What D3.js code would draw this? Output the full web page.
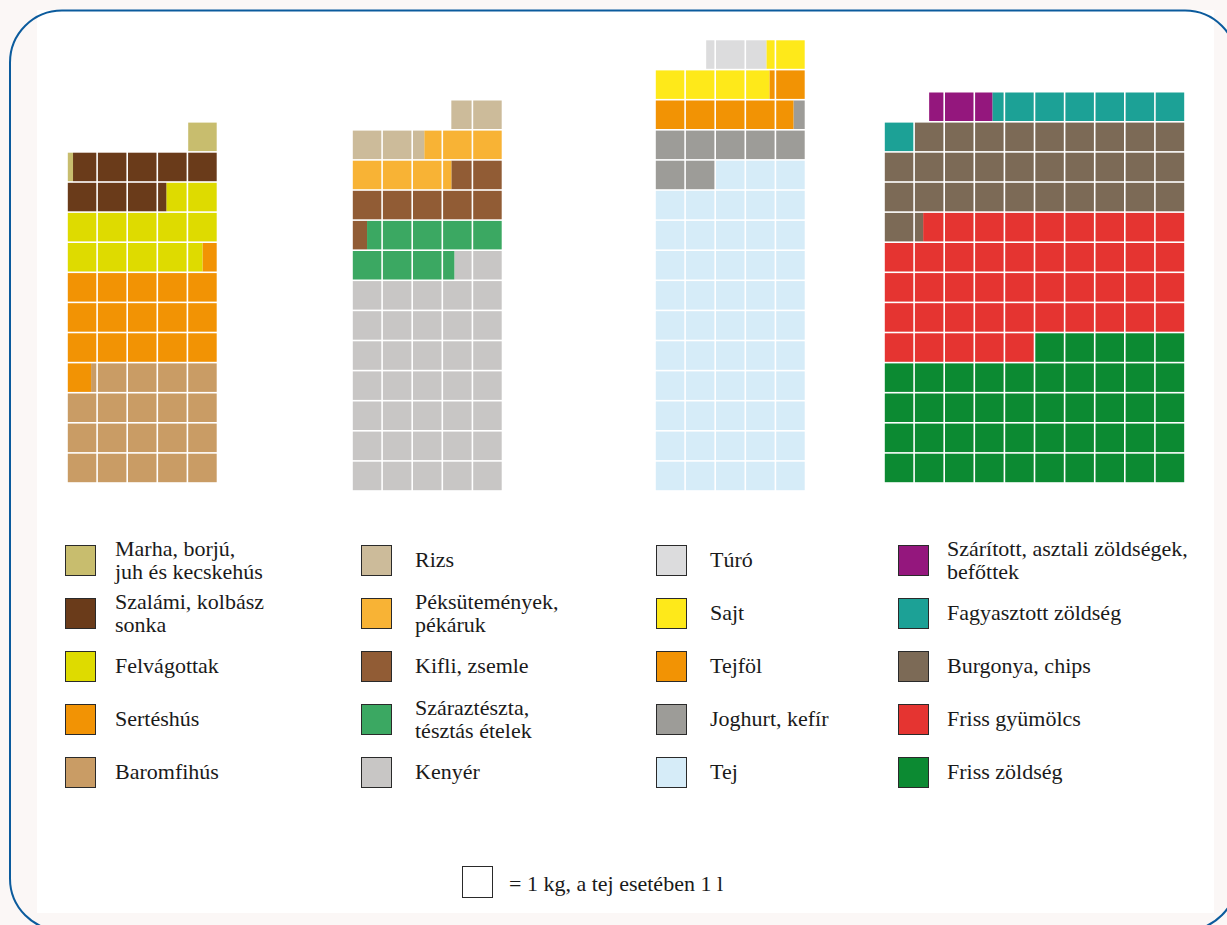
<!DOCTYPE html>
<meta charset="utf-8">
<title>Élelmiszer-fogyasztás</title>
<style>
body {
  margin: 0;
  background: #fbf7f6;
}
svg {
  display: block;
}
.swatch {
  stroke: #2a2a2a;
  stroke-width: 1px;
}
</style>
<svg id="chart" width="1227" height="925"></svg>
<script src="https://cdn.jsdelivr.net/npm/d3@7"></script>
<script>
// legend order, top to bottom; the blocks stack the other way, from the bottom row up
const meatLabels = [["Marha, borjú,", "juh és kecskehús"], ["Szalámi, kolbász", "sonka"], ["Felvágottak"], ["Sertéshús"], ["Baromfihús"]];
const meatValues = [1.2, 8.1, 11.2, 16.3, 19.2];
const meatColors = ["#c8bd6e", "#6a3b1a", "#dedb00", "#f29304", "#c99c65"];

const breadLabels = [["Rizs"], ["Péksütemények,", "pékáruk"], ["Kifli, zsemle"], ["Száraztészta,", "tésztás ételek"], ["Kenyér"]];
const breadValues = [4.1, 5.9, 7.2, 7.9, 36.6];
const breadColors = ["#ccbb9a", "#f8b335", "#915c35", "#3ba862", "#c8c6c5"];

const dairyLabels = [["Túró"], ["Sajt"], ["Tejföl"], ["Joghurt, kefír"], ["Tej"]];
const dairyValues = [2.0, 5.1, 5.8, 7.4, 53];
const dairyColors = ["#dcdcdd", "#fee91a", "#f29304", "#9d9c98", "#d6ecf8"];

const vegLabels = [["Szárított, asztali zöldségek,", "befőttek"], ["Fagyasztott zöldség"], ["Burgonya, chips"], ["Friss gyümölcs"], ["Friss zöldség"]];
const vegValues = [2.1, 7.4, 30.3, 43.7, 45];
const vegColors = ["#94177d", "#1ca196", "#7c6a56", "#e53431", "#0c8a32"];

const noteText = "= 1 kg, a tej esetében 1 l";

const groups = [
  {labels: meatLabels, values: meatValues, colors: meatColors},
  {labels: breadLabels, values: breadValues, colors: breadColors},
  {labels: dairyLabels, values: dairyValues, colors: dairyColors},
  {labels: vegLabels, values: vegValues, colors: vegColors}
];

// layout of the four blocks
const blockLeft = [67, 352, 655, 884],
      blockBottom = [483, 491, 491, 483],
      blockCols = [5, 5, 5, 10],
      pitch = 30.1,
      gap = 1.6;

const swatchX = [65, 361, 656, 898],
      textX = [115, 415, 710, 947],
      legendY = d3.scaleLinear().domain([0, 4]).range([545, 757]);

const serif = "'Liberation Serif', 'DejaVu Serif', serif";

const svg = d3.select("#chart");

// frame
svg.append("rect")
  .attr("x", 37).attr("y", 10)
  .attr("width", 1177).attr("height", 903)
  .attr("fill", "#fff");
svg.append("rect")
  .attr("x", 10).attr("y", 10.5)
  .attr("width", 1227).attr("height", 920)
  .attr("rx", 52).attr("ry", 52)
  .attr("fill", "none")
  .attr("stroke", "#0b5b9d")
  .attr("stroke-width", 2);

const cells = svg.append("g").attr("class", "cells");

groups.forEach((grp, gi) => {
  let w = blockCols[gi],
      left = blockLeft[gi],
      bottom = blockBottom[gi],
      total = d3.sum(grp.values),
      rows = Math.ceil(total / w);

  // units are counted from the right edge of the block, rows from the bottom
  let x = d3.scaleLinear().domain([0, w]).range([left + w * pitch, left]),
      y = d3.scaleLinear().domain([0, rows]).range([bottom, bottom - rows * pitch]);

  let segs = [];
  let acc = 0;
  d3.range(grp.values.length - 1, -1, -1).forEach(i => {
    let s = acc, e = acc + grp.values[i];
    for (let k = Math.floor(s); k < e; k++) {
      let a = Math.max(s, k) - k,
          b = Math.min(e, k + 1) - k;
      if (b - a < 1e-6) continue;
      segs.push({row: Math.floor(k / w), pos: k % w, a: a, b: b, color: grp.colors[i]});
    }
    acc = e;
  });

  let x0 = d => x(d.pos + d.b) + (d.b > 0.999 ? gap / 2 : 0),
      x1 = d => x(d.pos + d.a) - (d.a < 0.001 ? gap / 2 : 0);

  cells.append("g")
    .selectAll("rect")
    .data(segs)
    .enter().append("rect")
      .attr("x", x0)
      .attr("y", d => y(d.row + 1) + gap / 2)
      .attr("width", d => x1(d) - x0(d))
      .attr("height", pitch - gap)
      .attr("fill", d => d.color);

  // legend
  let lg = svg.append("g").attr("class", "legend");
  grp.labels.forEach((lines, j) => {
    let top = legendY(j);
    lg.append("rect")
      .attr("class", "swatch")
      .attr("x", swatchX[gi] + 0.5).attr("y", top + 0.5)
      .attr("width", 30).attr("height", 30)
      .attr("fill", grp.colors[j]);
    let t = lg.append("text")
      .attr("x", textX[gi])
      .attr("y", lines.length > 1 ? top + 11 : top + 22)
      .attr("font-family", serif)
      .attr("font-size", 22)
      .attr("fill", "#1a1a1a");
    lines.forEach((line, li) => {
      t.append("tspan")
        .attr("x", textX[gi])
        .attr("dy", li === 0 ? 0 : 23)
        .text(line);
    });
  });
});

// unit note
let note = svg.append("g").attr("class", "note");
note.append("rect")
  .attr("class", "swatch")
  .attr("x", 462.5).attr("y", 866.5)
  .attr("width", 30).attr("height", 31)
  .attr("fill", "#fff");
note.append("text")
  .attr("x", 509).attr("y", 891)
  .attr("font-family", serif)
  .attr("font-size", 22)
  .attr("fill", "#1a1a1a")
  .text(noteText);
</script>
